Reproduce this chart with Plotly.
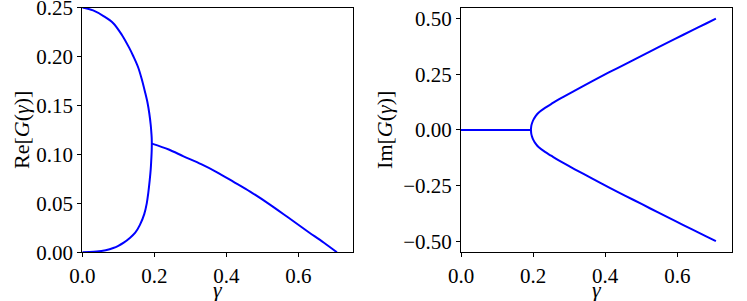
import plotly.graph_objects as go

# ---- data ----
# Left panel: Re[G(gamma)] — closed arc (upper then lower branch)
arc_gamma = [0.0, 0.03, 0.06, 0.086, 0.11, 0.13, 0.142, 0.155, 0.165, 0.174, 0.181,
             0.186, 0.19, 0.192, 0.1928, 0.193,
             0.1928, 0.192, 0.19, 0.187, 0.183, 0.179, 0.172, 0.16, 0.147, 0.132,
             0.115, 0.1, 0.086, 0.065, 0.04, 0.02, 0.0]
arc_re = [0.25, 0.247, 0.241, 0.234, 0.222, 0.209, 0.2, 0.189, 0.177, 0.164, 0.153,
          0.142, 0.130, 0.121, 0.116, 0.111,
          0.105, 0.098, 0.085, 0.073, 0.060, 0.050, 0.039, 0.028, 0.020, 0.0146,
          0.0098, 0.0066, 0.0044, 0.0022, 0.0007, 0.0002, 0.0]

branch_gamma = [0.193, 0.24, 0.281, 0.33, 0.373, 0.42, 0.466, 0.52, 0.57, 0.623, 0.67, 0.707]
branch_re = [0.111, 0.105, 0.098, 0.090, 0.082, 0.072, 0.062, 0.049, 0.036, 0.022, 0.010, 0.0]

# Right panel: Im[G(gamma)]
flat_gamma = [0.0, 0.1, 0.194]
flat_im = [0.0, 0.0, 0.0]

im_gamma = [0.194, 0.195, 0.197, 0.201, 0.207, 0.215, 0.233, 0.25, 0.27, 0.317, 0.363,
            0.41, 0.456, 0.502, 0.548, 0.595, 0.641, 0.68, 0.707]
im_upper = [0.0, 0.018, 0.03, 0.046, 0.062, 0.077, 0.099, 0.116, 0.136, 0.178, 0.218,
            0.258, 0.296, 0.334, 0.372, 0.41, 0.447, 0.478, 0.5]
im_lower = [-0.0, -0.018, -0.03, -0.046, -0.062, -0.077, -0.099, -0.116, -0.136, -0.178, -0.218,
            -0.258, -0.296, -0.334, -0.372, -0.41, -0.447, -0.478, -0.5]

x_ticks = [0.0, 0.2, 0.4, 0.6]
re_ticks = [0.0, 0.05, 0.10, 0.15, 0.20, 0.25]
im_ticks = [-0.5, -0.25, 0.0, 0.25, 0.5]

# ---- figure ----
W, H = 747, 301
FONT = "Liberation Serif"
BLUE = "#0000ff"
line = dict(color=BLUE, width=2, shape="spline", smoothing=0.9)

fig = go.Figure()
fig.add_trace(go.Scatter(x=arc_gamma, y=arc_re, mode="lines", line=line, xaxis="x", yaxis="y", cliponaxis=False))
fig.add_trace(go.Scatter(x=branch_gamma, y=branch_re, mode="lines", line=line, xaxis="x", yaxis="y", cliponaxis=False))
fig.add_trace(go.Scatter(x=flat_gamma, y=flat_im, mode="lines", line=line, xaxis="x2", yaxis="y2"))
fig.add_trace(go.Scatter(x=im_gamma, y=im_upper, mode="lines", line=line, xaxis="x2", yaxis="y2"))
fig.add_trace(go.Scatter(x=im_gamma, y=im_lower, mode="lines", line=line, xaxis="x2", yaxis="y2"))

def px_x(p):
    return p / W

def px_y(p):
    return 1 - p / H

ax_common = dict(showline=True, linecolor="black", linewidth=1, mirror=True,
                 ticks="outside", ticklen=4, tickwidth=1, tickcolor="black",
                 showgrid=False, zeroline=False, automargin=False,
                 ticklabeloverflow="allow",
                 tickfont=dict(family=FONT, size=21, color="black"))

top, bottom = 7.5, 252.3
fig.update_layout(
    width=W, height=H,
    margin=dict(l=0, r=0, t=0, b=0, autoexpand=False),
    paper_bgcolor="white", plot_bgcolor="white",
    showlegend=False,
    xaxis=dict(domain=[px_x(82.3), px_x(353.3)], range=[0, 0.7525], anchor="y",
               tickvals=x_ticks, tickformat=".1f", **ax_common),
    yaxis=dict(domain=[px_y(bottom), px_y(top)], range=[0, 0.25], anchor="x",
               tickvals=re_ticks, tickformat=".2f", **ax_common),
    xaxis2=dict(domain=[px_x(461), px_x(732.3)], range=[0, 0.7525], anchor="y2",
                tickvals=x_ticks, tickformat=".1f", **ax_common),
    yaxis2=dict(domain=[px_y(bottom), px_y(top)], range=[-0.55, 0.55], anchor="x2",
                tickvals=im_ticks, tickformat=".2f", **ax_common),
)

title_font = dict(family=FONT, size=22, color="black")
cy = px_y((top + bottom) / 2)
fig.add_annotation(text="Re[<i>G</i>(<i>γ</i>)]", x=px_x(22), y=cy, xref="paper", yref="paper",
                   textangle=-90, showarrow=False, font=title_font, xanchor="center", yanchor="middle")
fig.add_annotation(text="Im[<i>G</i>(<i>γ</i>)]", x=px_x(385), y=cy, xref="paper", yref="paper",
                   textangle=-90, showarrow=False, font=title_font, xanchor="center", yanchor="middle")
fig.add_annotation(text="<i>γ</i>", x=px_x(217.8), y=px_y(289.5), xref="paper", yref="paper",
                   showarrow=False, font=title_font, xanchor="center", yanchor="middle")
fig.add_annotation(text="<i>γ</i>", x=px_x(596.6), y=px_y(289.5), xref="paper", yref="paper",
                   showarrow=False, font=title_font, xanchor="center", yanchor="middle")

fig.write_html("out.html", config={"displayModeBar": False},
               post_script="document.body.style.margin='0';document.body.style.overflow='hidden';")
